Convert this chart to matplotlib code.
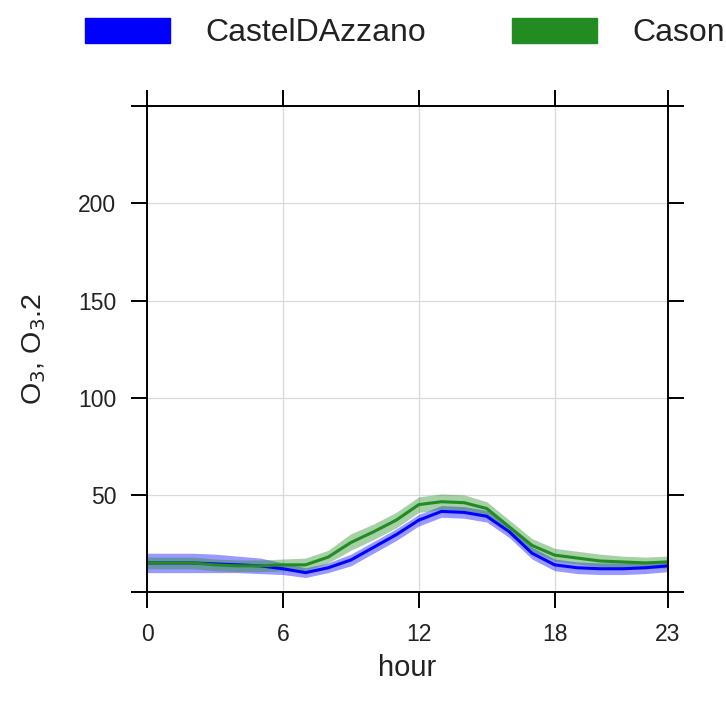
import matplotlib.pyplot as plt
from matplotlib.patches import Patch

plt.rcParams['font.family'] = ['Liberation Sans', 'DejaVu Sans']

hour = list(range(24))

# CastelDAzzano - media oraria e intervallo
castel = [15, 15, 15, 14.5, 14, 13.5, 12, 10, 12.5, 16.5, 23, 29.5,
          37, 41.5, 41, 39, 31, 20, 14, 12.5, 12, 12, 12.5, 13.5]
castel_lo = [10, 10, 10, 10, 10, 9.5, 9, 7.5, 10, 13.5, 20, 26.5,
             34, 38.5, 38, 36, 28, 17, 11, 9.5, 9, 9, 9.5, 10.5]
castel_hi = [20, 20, 20, 19.5, 18.5, 17.5, 15, 12.5, 15, 19.5, 26, 32.5,
             40, 44.5, 44, 42, 34, 23, 17, 15.5, 15, 15, 15.5, 16.5]

# Cason
cason = [15, 15, 15, 14, 13.5, 13.5, 14, 14, 18, 25.5, 31, 37,
         45, 46.5, 46, 43, 33.5, 24, 19, 17.5, 16, 15.5, 15, 15.5]
cason_lo = [12, 12, 12, 11, 10.5, 10.5, 11, 11, 15, 21.5, 27, 33,
            41, 42.5, 42, 39.5, 30.5, 21, 16, 14.5, 13, 12.5, 12, 12.5]
cason_hi = [18, 18, 18, 17, 16.5, 16.5, 17, 17.5, 21.5, 30, 35, 41,
            49, 50.5, 50, 46.5, 37, 27.5, 22.5, 21, 19.5, 18.5, 18, 18.5]

x_ticks = [0, 6, 12, 18, 23]
y_ticks = [0, 50, 100, 150, 200, 250]
y_labels = ['', '50', '100', '150', '200', '']

fig = plt.figure(figsize=(7.26, 7.04), dpi=100)
ax = fig.add_axes([0.2025, 0.159, 0.7175, 0.69])

ax.fill_between(hour, castel_lo, castel_hi, color='blue', alpha=0.4, lw=0)
ax.plot(hour, castel, color='blue', lw=2.2)
ax.fill_between(hour, cason_lo, cason_hi, color='forestgreen', alpha=0.4, lw=0)
ax.plot(hour, cason, color='forestgreen', lw=2.2)

ax.set_xlim(0, 23)
ax.set_ylim(0, 250)
ax.set_xticks(x_ticks)
ax.set_yticks(y_ticks)
ax.set_yticklabels(y_labels)
ax.grid(True, color='#d9d9d9', lw=0.9)
ax.set_axisbelow(True)

for s in ax.spines.values():
    s.set_linewidth(1.4)
ax.tick_params(direction='out', length=11.5, width=1.4, pad=10.5,
               labelsize=16.5, colors='black', labelcolor='#222222',
               top=True, right=True, labeltop=False, labelright=False)

ax.set_xlabel('hour', fontsize=21, color='#222222', labelpad=6)
ax.set_ylabel('O$_3$, O$_3$.2', fontsize=20.5, color='#222222', labelpad=22)

handles = [Patch(color='blue'), Patch(color='forestgreen')]
fig.legend(handles, ['CastelDAzzano', 'Cason'], loc='center',
           bbox_to_anchor=(0.558, 0.953), ncol=2, frameon=False,
           fontsize=23, handlelength=2.66, handleheight=0.84,
           handletextpad=1.1, columnspacing=2.7, borderpad=0,
           labelcolor='#222222')

fig.savefig('out.png', dpi=100)
